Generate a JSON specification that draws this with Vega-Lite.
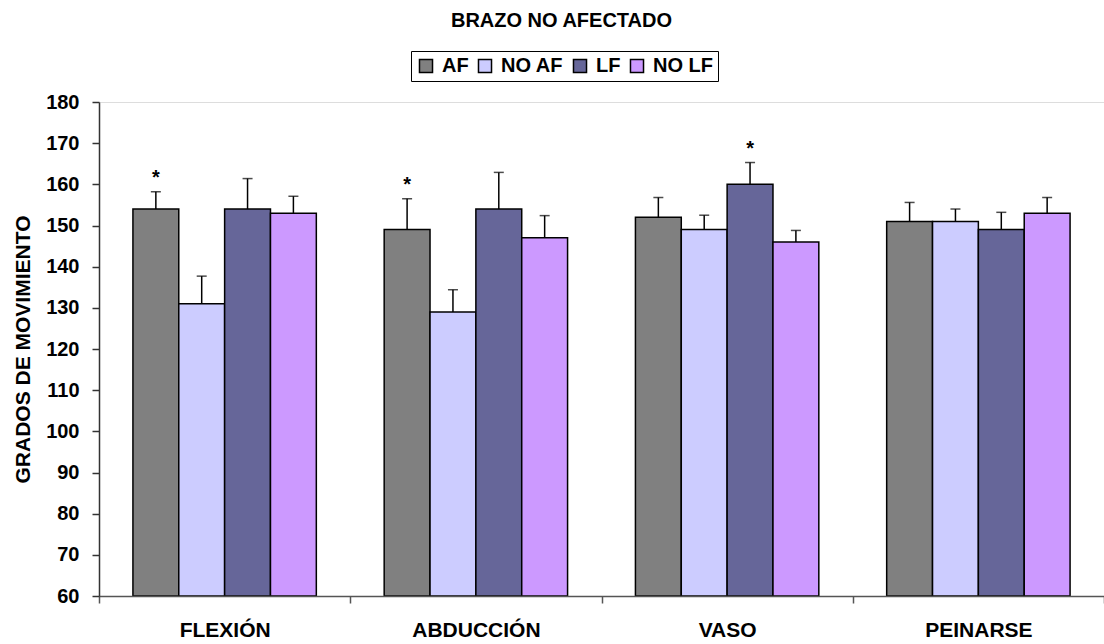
{
  "$schema": "https://vega.github.io/schema/vega-lite/v6.json",
  "autosize": {"type": "none"},
  "padding": {"left": 99, "top": 102, "right": 0, "bottom": 48},
  "width": 1005,
  "height": 494,
  "background": "white",
  "title": {
    "text": "BRAZO NO AFECTADO",
    "font": "Liberation Sans",
    "fontSize": 20,
    "fontWeight": "bold",
    "color": "#000000",
    "anchor": "middle",
    "frame": "group",
    "baseline": "alphabetic",
    "offset": 4,
    "dx": -40
  },
  "data": {
    "values": [
      {"movimiento": "FLEXIÓN", "grupo": "AF", "grados": 154, "error": 4.2, "sig": "*"},
      {"movimiento": "FLEXIÓN", "grupo": "NO AF", "grados": 131, "error": 6.7, "sig": ""},
      {"movimiento": "FLEXIÓN", "grupo": "LF", "grados": 154, "error": 7.4, "sig": ""},
      {"movimiento": "FLEXIÓN", "grupo": "NO LF", "grados": 153, "error": 4.1, "sig": ""},
      {"movimiento": "ABDUCCIÓN", "grupo": "AF", "grados": 149, "error": 7.5, "sig": "*"},
      {"movimiento": "ABDUCCIÓN", "grupo": "NO AF", "grados": 129, "error": 5.4, "sig": ""},
      {"movimiento": "ABDUCCIÓN", "grupo": "LF", "grados": 154, "error": 8.9, "sig": ""},
      {"movimiento": "ABDUCCIÓN", "grupo": "NO LF", "grados": 147, "error": 5.4, "sig": ""},
      {"movimiento": "VASO", "grupo": "AF", "grados": 152, "error": 4.8, "sig": ""},
      {"movimiento": "VASO", "grupo": "NO AF", "grados": 149, "error": 3.5, "sig": ""},
      {"movimiento": "VASO", "grupo": "LF", "grados": 160, "error": 5.3, "sig": "*"},
      {"movimiento": "VASO", "grupo": "NO LF", "grados": 146, "error": 2.8, "sig": ""},
      {"movimiento": "PEINARSE", "grupo": "AF", "grados": 151, "error": 4.6, "sig": ""},
      {"movimiento": "PEINARSE", "grupo": "NO AF", "grados": 151, "error": 3.0, "sig": ""},
      {"movimiento": "PEINARSE", "grupo": "LF", "grados": 149, "error": 4.2, "sig": ""},
      {"movimiento": "PEINARSE", "grupo": "NO LF", "grados": 153, "error": 3.8, "sig": ""}
    ]
  },
  "transform": [
    {"calculate": "datum.grados + datum.error", "as": "superior"}
  ],
  "encoding": {
    "x": {
      "field": "movimiento",
      "type": "nominal",
      "sort": ["FLEXIÓN", "ABDUCCIÓN", "VASO", "PEINARSE"],
      "scale": {"paddingInner": 0, "paddingOuter": 0},
      "axis": {
        "title": null,
        "labelAngle": 0,
        "labelFont": "Liberation Sans",
        "labelFontSize": 21,
        "labelFontWeight": "bold",
        "labelColor": "#000000",
        "labelPadding": 16,
        "tickBand": "extent",
        "tickSize": 7,
        "tickColor": "#555555",
        "domainColor": "#555555",
        "domainWidth": 1.5,
        "tickWidth": 1.5,
        "zindex": 1
      }
    },
    "xOffset": {
      "field": "grupo",
      "type": "nominal",
      "sort": ["AF", "NO AF", "LF", "NO LF"],
      "scale": {"paddingInner": 0, "paddingOuter": 0.74}
    }
  },
  "layer": [
    {
      "mark": {"type": "bar", "stroke": "#000000", "strokeWidth": 1.5},
      "encoding": {
        "y": {
          "field": "grados",
          "type": "quantitative",
          "scale": {"domain": [60, 180], "zero": false, "nice": false},
          "axis": {
            "title": "GRADOS DE MOVIMIENTO",
            "titleFont": "Liberation Sans",
            "titleFontSize": 21,
            "titleFontWeight": "bold",
            "titleColor": "#000000",
            "titlePadding": 12,
            "values": [60, 70, 80, 90, 100, 110, 120, 130, 140, 150, 160, 170, 180],
            "labelFont": "Liberation Sans",
            "labelFontSize": 20,
            "labelFontWeight": "bold",
            "labelColor": "#000000",
            "labelPadding": 13,
            "tickSize": 7,
            "tickColor": "#333333",
            "domainColor": "#333333",
            "domainWidth": 1.5,
            "tickWidth": 1.5,
            "grid": false,
            "zindex": 1
          }
        },
        "y2": {"datum": 60},
        "fill": {
          "field": "grupo",
          "type": "nominal",
          "sort": ["AF", "NO AF", "LF", "NO LF"],
          "scale": {
            "domain": ["AF", "NO AF", "LF", "NO LF"],
            "range": ["#808080", "#CCCCFF", "#666699", "#CC99FF"]
          },
          "legend": {
            "title": null,
            "orient": "none",
            "legendX": 312,
            "legendY": -51,
            "direction": "horizontal",
            "columns": 4,
            "symbolType": "square",
            "symbolSize": 170,
            "symbolStrokeColor": "#000000",
            "symbolStrokeWidth": 1.5,
            "labelFont": "Liberation Sans",
            "labelFontSize": 20,
            "labelFontWeight": "bold",
            "labelColor": "#000000",
            "labelOffset": 6,
            "columnPadding": 6,
            "padding": 5,
            "strokeColor": "#000000",
            "fillColor": "#ffffff"
          }
        }
      }
    },
    {
      "mark": {"type": "rule", "color": "#000000", "strokeWidth": 1.5},
      "encoding": {
        "y": {"field": "grados", "type": "quantitative"},
        "y2": {"field": "superior"}
      }
    },
    {
      "mark": {"type": "tick", "color": "#000000", "thickness": 1.5, "size": 10, "orient": "horizontal"},
      "encoding": {
        "y": {"field": "superior", "type": "quantitative"}
      }
    },
    {
      "mark": {"type": "text", "font": "Liberation Sans", "fontSize": 20, "fontWeight": "bold", "baseline": "alphabetic", "dy": -8, "color": "#000000"},
      "encoding": {
        "y": {"field": "superior", "type": "quantitative"},
        "text": {"field": "sig"}
      }
    }
  ]
}
